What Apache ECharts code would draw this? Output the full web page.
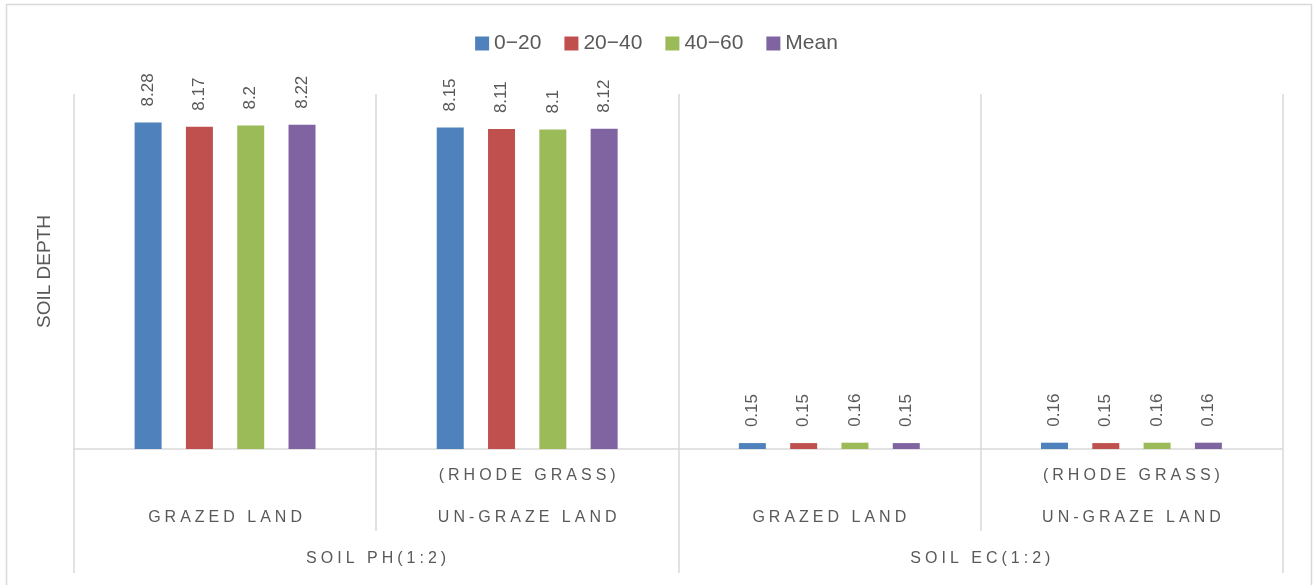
<!DOCTYPE html>
<html>
<head>
<meta charset="utf-8">
<script src="https://cdn.jsdelivr.net/npm/echarts@6/dist/echarts.min.js"></script>
<style>
  html, body { margin: 0; padding: 0; background: #ffffff; }
  #chart { width: 1313px; height: 585px; }
</style>
</head>
<body>
<div id="chart"></div>
<script>
// Land-use categories (second level) and soil parameters (top level)
const landTypes = ['GRAZED LAND', 'UN-GRAZE LAND', 'GRAZED LAND', 'UN-GRAZE LAND'];
const landNotes = ['', '(RHODE GRASS)', '', '(RHODE GRASS)'];
const parameters = ['SOIL PH(1:2)', 'SOIL EC(1:2)'];

// Soil depth series
const depthNames = ['0\u221220', '20\u221240', '40\u221260', 'Mean'];
const depth0to20 = [8.28, 8.15, 0.15, 0.16];
const depth20to40 = [8.17, 8.11, 0.15, 0.15];
const depth40to60 = [8.2, 8.1, 0.16, 0.16];
const depthMean = [8.22, 8.12, 0.15, 0.16];

const seriesValues = [depth0to20, depth20to40, depth40to60, depthMean];
const colors = ['#4F81BD', '#C0504D', '#9BBB59', '#8064A2'];

const FONT = '"Liberation Sans", Arial, sans-serif';
const TEXT = '#595959';
const RULE = '#D9D9D9';

// spaced-out capitals for the category labels
function spaced(s) {
  return s.split('').join('\u2005');
}

const chart = echarts.init(document.getElementById('chart'), null, { renderer: 'canvas' });

const option = {
  animation: false,
  color: colors,
  textStyle: { fontFamily: FONT },
  legend: {
    top: 28,
    left: 'center',
    itemWidth: 14,
    itemHeight: 14,
    itemGap: 23,
    icon: 'rect',
    textStyle: { fontSize: 21, color: TEXT, fontFamily: FONT },
    data: depthNames
  },
  graphic: [{
    type: 'rect',
    silent: true,
    shape: { x: 6.5, y: 4.5, width: 1305, height: 600 },
    style: { fill: 'none', stroke: RULE, lineWidth: 1.5 }
  }],
  grid: { left: 74, right: 30.5, top: 94, bottom: 136, containLabel: false },
  xAxis: [
    {
      type: 'category',
      data: landTypes,
      position: 'bottom',
      axisLine: { show: true, lineStyle: { color: RULE, width: 1.5 } },
      axisTick: { show: false },
      axisLabel: { show: false },
      splitLine: { show: true, interval: 0, lineStyle: { color: RULE, width: 1.5 } }
    },
    {
      type: 'category',
      data: landTypes,
      position: 'bottom',
      axisLine: { show: false },
      axisTick: { show: true, interval: 0, length: 82, lineStyle: { color: RULE, width: 1.5 } },
      axisLabel: {
        interval: 0,
        margin: 6,
        color: TEXT,
        fontSize: 16,
        fontFamily: FONT,
        lineHeight: 42,
        formatter: function (value, idx) {
          return spaced(landNotes[idx]) + '\n' + spaced(value);
        }
      },
      splitLine: { show: false }
    },
    {
      type: 'category',
      data: parameters,
      position: 'bottom',
      axisLine: { show: false },
      axisTick: { show: true, interval: 0, length: 124, lineStyle: { color: RULE, width: 1.5 } },
      axisLabel: {
        interval: 0,
        margin: 100,
        color: TEXT,
        fontSize: 16,
        fontFamily: FONT,
        lineHeight: 20,
        formatter: function (value) { return spaced(value); }
      },
      splitLine: { show: false }
    }
  ],
  yAxis: {
    type: 'value',
    min: 0,
    max: 9,
    interval: 1,
    axisLine: { show: false },
    axisTick: { show: false },
    axisLabel: { show: false },
    splitLine: { show: false },
    name: 'SOIL DEPTH',
    nameLocation: 'middle',
    nameGap: 20,
    nameTextStyle: { fontSize: 19, color: TEXT, fontFamily: FONT }
  },
  series: depthNames.map(function (name, i) {
    return {
      name: name,
      type: 'bar',
      xAxisIndex: 0,
      barWidth: 27,
      barGap: '90%',
      data: seriesValues[i],
      itemStyle: { color: colors[i] },
      label: {
        show: true,
        position: 'top',
        rotate: 90,
        align: 'left',
        verticalAlign: 'middle',
        distance: 16,
        color: TEXT,
        fontSize: 17,
        fontFamily: FONT
      }
    };
  })
};

chart.setOption(option);
</script>
</body>
</html>
